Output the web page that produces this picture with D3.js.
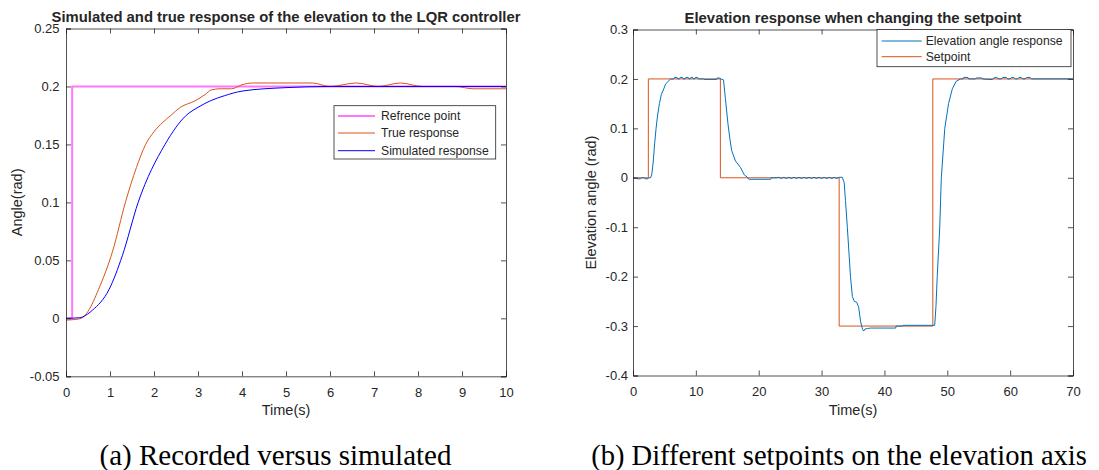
<!DOCTYPE html>
<html><head><meta charset="utf-8">
<script src="https://cdn.jsdelivr.net/npm/d3@7"></script>
<style>
body{margin:0;background:#fff}
svg text{font-family:"Liberation Sans",Arial,Helvetica,sans-serif;fill:#262626}
svg text.cap{font-family:"Liberation Serif","Times New Roman",serif;fill:#000}
</style>
</head><body>
<svg id="c" width="1099" height="470"></svg>
<script>
// ---------- data: panel (a) ----------
const aTitle = "Simulated and true response of the elevation to the LQR controller";
const aXTicks = [0,1,2,3,4,5,6,7,8,9,10];
const aYTicks = [-0.05,0,0.05,0.1,0.15,0.2,0.25];
const aYTickLabels = ["-0.05","0","0.05","0.1","0.15","0.2","0.25"];
const refT = [0, 0.14, 0.14, 10];
const refY = [0, 0, 0.2, 0.2];
const trueT = [0,0.2,0.35,0.5,0.74,1.06,1.35,1.6,1.81,2.0,2.2,2.38,2.6,2.93,3.16,3.3,3.5,3.76,4.0,4.24,5.6,6.0,6.6,7.1,7.6,8.1,8.85,9.25,10];
const trueY = [-0.0015,-0.001,0,0.006,0.025,0.058,0.1,0.13,0.15,0.161,0.169,0.175,0.182,0.1876,0.193,0.197,0.198,0.198,0.2015,0.203,0.203,0.2,0.203,0.2,0.203,0.2,0.2,0.198,0.198];
const simT = [0,0.3,0.6,0.98,1.28,1.64,2.25,2.73,3.0,3.28,3.6,4.0,5.0,6.0,10];
const simY = [0,0.0005,0.007,0.025,0.054,0.1,0.15,0.175,0.182,0.1876,0.192,0.196,0.199,0.2,0.2];
const aLegend = ["Refrence point","True response","Simulated response"];

// ---------- data: panel (b) ----------
const bTitle = "Elevation response when changing the setpoint";
const bXTicks = [0,10,20,30,40,50,60,70];
const bYTicks = [-0.4,-0.3,-0.2,-0.1,0,0.1,0.2,0.3];
const bYTickLabels = ["-0.4","-0.3","-0.2","-0.1","0","0.1","0.2","0.3"];
const setT = [0,2.44,2.44,13.9,13.9,32.8,32.8,47.7,47.7,70];
const setY = [0,0,0.2,0.2,0,0,-0.3,-0.3,0.2,0.2];
const elevT = [0,0.6,0.7,1.2,1.3,1.8,1.9,2.4,2.5,2.8,3.0,3.2,3.45,3.67,3.9,4.2,4.5,4.9,5.2,5.6,6.0,
  6.5,6.6,7.0,7.1,7.4,7.5,7.9,8.0,8.3,8.4,8.8,8.9,9.1,9.2,9.5,9.6,9.8,9.9,10.3,10.4,10.7,11.2,11.3,13.3,13.4,13.7,14.0,14.4,
  14.7,15.1,15.4,15.7,16.3,17.1,17.7,18.2,18.4,21.9,22.0,
  22.8,23.2,23.6,24.0,24.4,24.8,25.2,25.6,26.0,26.4,26.8,27.2,27.6,28.0,28.4,28.8,29.2,29.6,30.0,30.4,30.8,31.2,31.6,32.0,32.4,32.8,33.3,
  33.6,33.8,34.1,34.4,34.6,34.9,35.2,35.6,35.9,36.2,36.5,36.7,36.9,37.3,37.8,41.8,41.85,42.9,42.95,48.0,
  48.2,48.4,48.8,49.05,49.6,49.9,50.2,50.8,51.4,52.1,
  52.5,52.6,53.3,53.4,54.5,54.6,55.5,55.6,56.5,57.2,57.4,57.8,58.2,58.6,58.8,59.4,59.6,60.0,60.2,60.6,60.8,61.2,61.4,61.8,62.0,62.4,62.6,63.2,63.4,70];
const elevY = [0,0,-0.002,-0.002,0,0,-0.002,-0.002,0,0,0.008,0.03,0.07,0.1,0.125,0.15,0.168,0.18,0.19,0.195,0.2,
  0.2,0.203,0.203,0.2,0.2,0.203,0.203,0.2,0.2,0.203,0.203,0.2,0.2,0.203,0.203,0.2,0.2,0.203,0.203,0.2,0.2,0.2,0.199,0.199,0.202,0.202,0.2,0.198,
  0.16,0.11,0.08,0.055,0.034,0.021,0.006,0.001,-0.003,-0.003,0,
  0,0.001,-0.0015,0.001,-0.0015,0.001,-0.0015,0.001,-0.0015,0.001,-0.0015,0.001,-0.0015,0.001,-0.0015,0.001,-0.0015,0.001,-0.0015,0.001,-0.0015,0.001,-0.0015,0.001,-0.0015,0.001,0.001,
  -0.01,-0.046,-0.1,-0.16,-0.2,-0.24,-0.25,-0.252,-0.262,-0.29,-0.306,-0.31,-0.306,-0.305,-0.304,-0.304,-0.3,-0.3,-0.2985,-0.2985,
  -0.26,-0.2,-0.1,0,0.1,0.125,0.15,0.18,0.195,0.2,
  0.2,0.203,0.203,0.2,0.2,0.202,0.202,0.2,0.199,0.199,0.202,0.203,0.2,0.2,0.203,0.203,0.2,0.2,0.203,0.203,0.2,0.2,0.203,0.203,0.2,0.2,0.203,0.203,0.2,0.2];
const bLegend = ["Elevation angle response","Setpoint"];

const svg = d3.select("#c");
const axisColor = "#262626";

function fit(sel, target){
  const n = sel.node();
  const fs = parseFloat(n.style.fontSize);
  const w = n.getComputedTextLength();
  if (w > 0) sel.style("font-size", (fs*target/w).toFixed(2)+"px");
  return sel;
}

function panel(o){
  const g = svg.append("g");
  const x = d3.scaleLinear().domain(o.xDom).range([o.left,o.right]);
  const y = d3.scaleLinear().domain(o.yDom).range([o.bottom,o.top]);
  const clipId = "clip"+o.id;
  g.append("clipPath").attr("id",clipId).append("rect")
    .attr("x",o.left).attr("y",o.top).attr("width",o.right-o.left).attr("height",o.bottom-o.top);
  g.append("rect").attr("x",o.left).attr("y",o.top).attr("width",o.right-o.left).attr("height",o.bottom-o.top).attr("fill","#fff");
  const lines = g.append("g").attr("clip-path",`url(#${clipId})`);
  o.series.forEach(s=>{
    const pts = s.t.map((t,i)=>[t,s.y[i]]);
    lines.append("path").attr("d",d3.line().x(d=>x(d[0])).y(d=>y(d[1])).curve(s.curve||d3.curveLinear)(pts))
      .attr("fill","none").attr("stroke",s.color).attr("stroke-width",s.w||1).attr("stroke-linejoin","round");
  });
  const tl = 5;
  const ax = d3.axisBottom(x).tickValues(o.xTicks).tickSize(-tl).tickPadding(11).tickFormat(d3.format("d"));
  const gb = g.append("g").attr("transform",`translate(0,${o.bottom})`).call(ax);
  const gt = g.append("g").attr("transform",`translate(0,${o.top})`).call(d3.axisTop(x).tickValues(o.xTicks).tickSize(-tl).tickFormat(""));
  const ay = d3.axisLeft(y).tickValues(o.yTicks).tickSize(-tl).tickPadding(o.yPad).tickFormat((d,i)=>o.yLabels[i]);
  const gl = g.append("g").attr("transform",`translate(${o.left},0)`).call(ay);
  const gr = g.append("g").attr("transform",`translate(${o.right},0)`).call(d3.axisRight(y).tickValues(o.yTicks).tickSize(-tl).tickFormat(""));
  [gb,gt,gl,gr].forEach(a=>{
    a.selectAll(".domain").attr("stroke",axisColor).attr("stroke-width",0.8);
    a.selectAll(".tick line").attr("stroke",axisColor).attr("stroke-width",0.8);
    a.selectAll(".tick text").attr("fill",axisColor).style("font-size","13px").style("font-family",'"Liberation Sans",Arial,sans-serif');
  });
  fit(g.append("text").attr("x",o.titleX).attr("y",o.top-7).attr("text-anchor","middle")
    .style("font-weight","bold").style("font-size","14px").attr("fill","#000").text(o.title), o.titleW);
  g.append("text").attr("x",(o.left+o.right)/2).attr("y",o.bottom+39).attr("text-anchor","middle")
    .style("font-size","14.5px").text(o.xLabel);
  g.append("text").attr("transform",`translate(${o.yLabelX},${(o.top+o.bottom)/2}) rotate(-90)`).attr("text-anchor","middle")
    .style("font-size","14.5px").text(o.yLabel);
  fit(g.append("text").attr("class","cap").attr("x",o.capX).attr("y",465).attr("text-anchor","middle")
    .style("font-size","28px").text(o.caption), o.capW);
  const L = o.legend;
  const lg = g.append("g");
  lg.append("rect").attr("x",L.x0).attr("y",L.y0).attr("width",L.x1-L.x0).attr("height",L.y1-L.y0)
    .attr("fill","#fff").attr("stroke",axisColor).attr("stroke-width",0.8);
  L.items.forEach((it,i)=>{
    const yy = L.rows[i];
    lg.append("line").attr("x1",L.lx0).attr("x2",L.lx1).attr("y1",yy).attr("y2",yy)
      .attr("stroke",it.color).attr("stroke-width",it.w||1);
    lg.append("text").attr("x",L.tx).attr("y",yy).attr("dy","0.35em").style("font-size","12.2px").attr("fill","#000").text(it.label);
  });
}

panel({id:"a", left:66, right:506, top:28.5, bottom:376.3, xDom:[0,10], yDom:[-0.05,0.25],
  xTicks:aXTicks, yTicks:aYTicks, yLabels:aYTickLabels, yPad:6.5,
  title:aTitle, titleX:286, titleW:469, xLabel:"Time(s)", yLabel:"Angle(rad)", yLabelX:22,
  caption:"(a) Recorded versus simulated", capX:275.5, capW:352,
  series:[
    {t:refT,y:refY,color:"#ff77ff",w:2},
    {t:trueT,y:trueY,color:"#D95319",w:1,curve:d3.curveMonotoneX},
    {t:simT,y:simY,color:"#0000ff",w:1,curve:d3.curveMonotoneX}
  ],
  legend:{x0:334,x1:495.7,y0:105.7,y1:159,lx0:338,lx1:375,tx:381,rows:[116,133,150.7],items:[
    {label:aLegend[0],color:"#ff77ff",w:2},{label:aLegend[1],color:"#D95319"},{label:aLegend[2],color:"#0000ff"}]}
});

panel({id:"b", left:633, right:1073, top:29.5, bottom:375.5, xDom:[0,70], yDom:[-0.4,0.3],
  xTicks:bXTicks, yTicks:bYTicks, yLabels:bYTickLabels, yPad:5,
  title:bTitle, titleX:853, titleW:337, xLabel:"Time(s)", yLabel:"Elevation angle (rad)", yLabelX:596,
  caption:"(b) Different setpoints on the elevation axis", capX:839, capW:496,
  series:[
    {t:setT,y:setY,color:"#D95319",w:1},
    {t:elevT,y:elevY,color:"#0072BD",w:1}
  ],
  legend:{x0:877,x1:1071,y0:29.5,y1:66.7,lx0:881.7,lx1:921.7,tx:925.7,rows:[41,56.7],items:[
    {label:bLegend[0],color:"#0072BD"},{label:bLegend[1],color:"#D95319"}]}
});
</script>
</body></html>
